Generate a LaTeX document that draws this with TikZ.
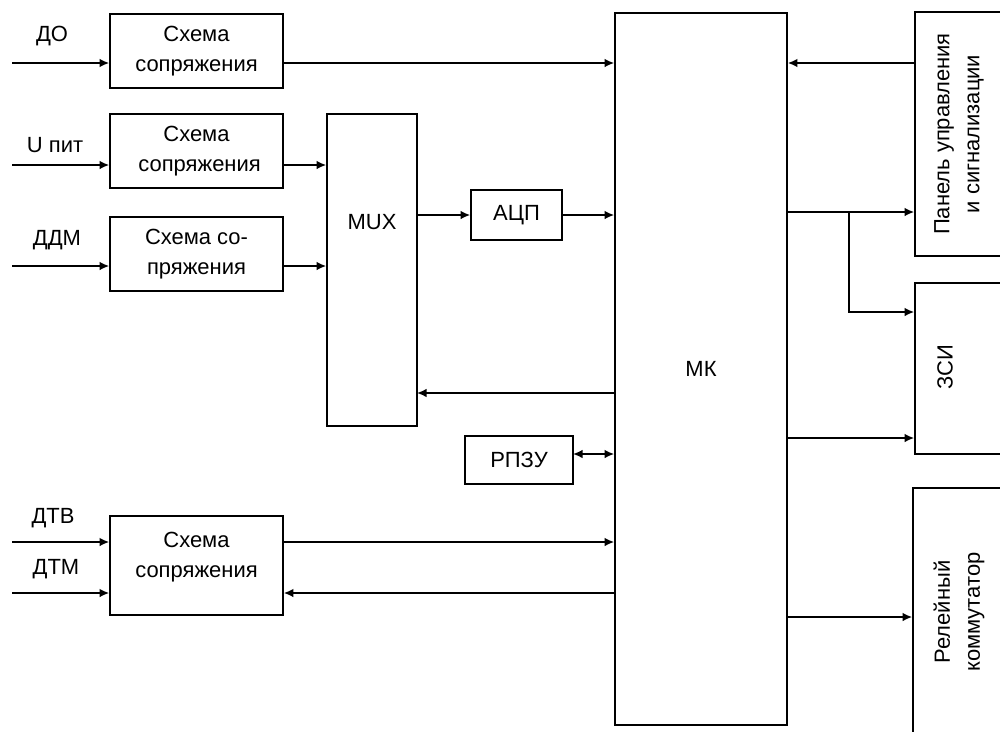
\documentclass[tikz,border=0pt]{standalone}
\usepackage{fontspec}
\setmainfont{Liberation Sans}
\usetikzlibrary{arrows.meta,positioning,calc}

\begin{document}
\begin{tikzpicture}[x=0.2mm,y=-0.2mm,line width=0.9pt,
  font=\fontsize{12.5}{17}\selectfont,>={Latex[length=1.9mm,width=1.7mm]},
  blk/.style={draw,align=center,inner sep=0pt},
  txt/.style={inner sep=0pt,align=center}]
\useasboundingbox (0,0) rectangle (1000,731);
% interface circuits
\node[blk,minimum width=3.46cm,minimum height=1.48cm] (cs1) at (196.5,51) {Схема\\сопряжения};
\node[blk,minimum width=3.46cm,minimum height=1.48cm] (cs2) at (196.5,151) {Схема\\\ сопряжения};
\node[blk,minimum width=3.46cm,minimum height=1.48cm] (cs3) at (196.5,254) {Схема со-\\пряжения};
\node[blk,minimum width=3.46cm,minimum height=1.98cm] (cs4) at (196.5,565.5) {};
\node[txt] (lcs4) at (196.5,557) {Схема\\сопряжения};
% inputs
\coordinate (in1) at (12,63);
\coordinate (in2) at (12,165);
\coordinate (in3) at (12,266);
\coordinate (in4) at (12,542);
\coordinate (in5) at (12,593);
\node[txt] (ldo) at (52,36) {ДО};
\node[txt] (lup) at (55,145) {U пит};
\node[txt] (lddm) at (57,240) {ДДМ};
\node[txt] (ldtv) at (53,518) {ДТВ};
\node[txt] (ldtm) at (56,569) {ДТМ};
\draw[->] (in1) -- (in1 -| cs1.west);
\draw[->] (in2) -- (in2 -| cs2.west);
\draw[->] (in3) -- (in3 -| cs3.west);
\draw[->] (in4) -- (in4 -| cs4.west);
\draw[->] (in5) -- (in5 -| cs4.west);
% mux, adc, eeprom
\node[blk,minimum width=1.8cm,minimum height=6.24cm] (mux) at (372,270) {};
\node[txt] (lmux) at (372,222) {MUX};
\node[blk,minimum width=1.82cm,minimum height=1cm] (adc) at (516.5,215) {АЦП};
\node[blk,minimum width=2.16cm,minimum height=0.96cm] (rpzu) at (519,460) {РПЗУ};
% microcontroller
\node[blk,minimum width=3.44cm,minimum height=14.24cm] (mk) at (701,369) {МК};
% right side blocks
\node[blk,minimum width=1.9cm,minimum height=4.88cm] (panel) at (962.5,134) {};
\node[txt,rotate=90] (lpanel) at (959,134) {Панель управления\\и сигнализации};
\node[blk,minimum width=1.9cm,minimum height=3.42cm] (zsi) at (962.5,368.5) {};
\node[txt,rotate=90] (lzsi) at (945,367) {ЗСИ};
\node[blk,minimum width=1.94cm,minimum height=5.44cm] (rel) at (961.5,624) {};
\node[txt,rotate=90] (lrel) at (959,612) {Релейный\\коммутатор};
% links
\draw[->] (in1 -| cs1.east) -- (in1 -| mk.west);
\draw[->] (in2 -| cs2.east) -- (in2 -| mux.west);
\draw[->] (in3 -| cs3.east) -- (in3 -| mux.west);
\draw[->] (mux.east |- adc.west) -- (adc.west);
\draw[->] (adc.east) -- (adc.east -| mk.west);
\coordinate (ret) at (417,393);
\draw[<-] (ret) -- (ret -| mk.west);
\coordinate (mem) at (573,454);
\draw[<->] (mem) -- (mem -| mk.west);
\draw[->] (in4 -| cs4.east) -- (in4 -| mk.west);
\draw[<-] (in5 -| cs4.east) -- (in5 -| mk.west);
\draw[<-] (in1 -| mk.east) -- (in1 -| panel.west);
\coordinate (br) at (849,212);
\coordinate (zs) at (849,312);
\draw[->] (br -| mk.east) -- (br -| panel.west);
\draw[->] (br) -- (zs) -- (zs -| zsi.west);
\coordinate (zo) at (787,438);
\draw[->] (zo) -- (zo -| zsi.west);
\coordinate (ro) at (787,617);
\draw[->] (ro) -- (ro -| rel.west);
\end{tikzpicture}
\end{document}
